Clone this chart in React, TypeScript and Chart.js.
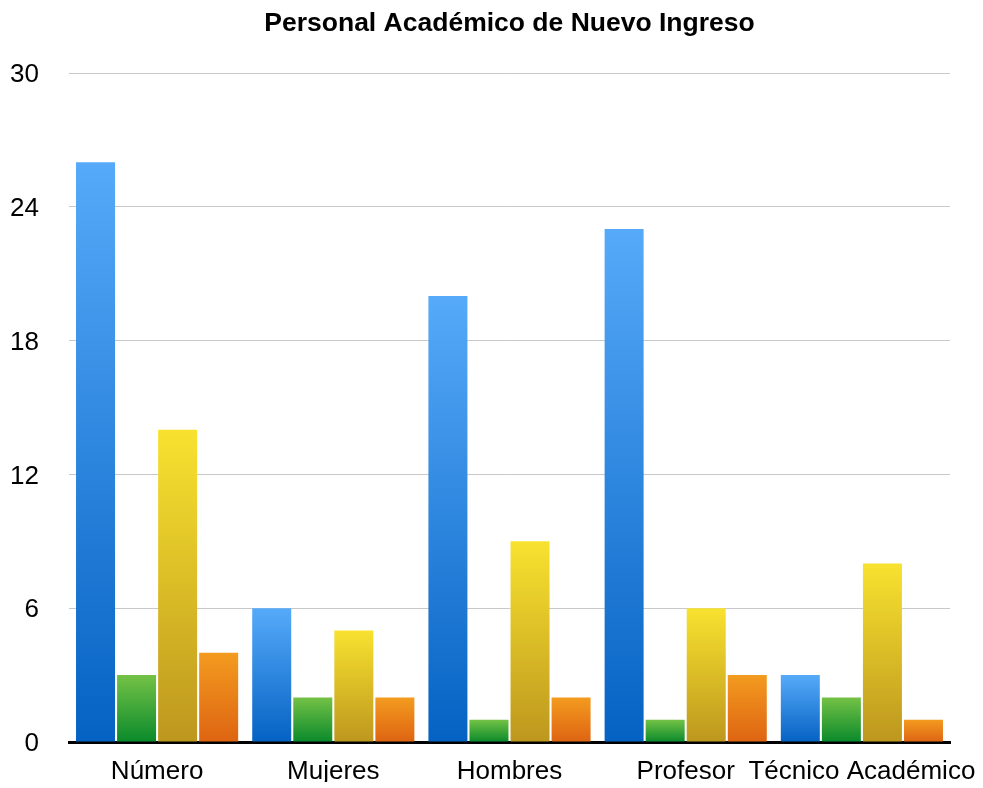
import React, { useEffect, useRef } from "react";
import { Chart, registerables } from "chart.js";

Chart.register(...registerables);

const chartTitle = "Personal Académico de Nuevo Ingreso";
const categories = ["Número", "Mujeres", "Hombres", "Profesor", "Técnico Académico"];
const serieAzul = [26, 6, 20, 23, 3];
const serieVerde = [3, 2, 1, 1, 2];
const serieAmarilla = [14, 5, 9, 6, 8];
const serieNaranja = [4, 2, 2, 3, 1];
const yTicks = [0, 6, 12, 18, 24, 30];

const FONT = "'Liberation Sans', Arial, Helvetica, sans-serif";

const grad = (top: string, bottom: string) => (ctx: any) => {
  const chart = ctx.chart;
  if (!chart.chartArea || ctx.type !== "data" || !ctx.parsed) return bottom;
  const y = chart.scales.y;
  const t = y.getPixelForValue(ctx.parsed.y);
  const b = y.getPixelForValue(0);
  if (!isFinite(t) || !isFinite(b) || Math.abs(b - t) < 1) return top;
  const g = chart.ctx.createLinearGradient(0, t, 0, b);
  g.addColorStop(0, top);
  g.addColorStop(1, bottom);
  return g;
};

const titlePlugin = {
  id: "centeredTitle",
  afterDraw(chart: any) {
    const { ctx, chartArea } = chart;
    ctx.save();
    ctx.font = `bold 26.5px ${FONT}`;
    ctx.fillStyle = "#000";
    ctx.textAlign = "center";
    ctx.textBaseline = "alphabetic";
    ctx.fillText(chartTitle, (chartArea.left + chartArea.right) / 2, 31);
    ctx.restore();
  },
};

export default function App() {
  const ref = useRef<HTMLCanvasElement>(null);

  useEffect(() => {
    if (!ref.current) return;
    const chart = new Chart(ref.current, {
      type: "bar",
      data: {
        labels: categories,
        datasets: [
          { label: "Serie 1", data: serieAzul, backgroundColor: grad("#56aaf9", "#0562c3") },
          { label: "Serie 2", data: serieVerde, backgroundColor: grad("#74c246", "#0a8a2b") },
          { label: "Serie 3", data: serieAmarilla, backgroundColor: grad("#f8e22f", "#bd971e") },
          { label: "Serie 4", data: serieNaranja, backgroundColor: grad("#f39b1f", "#de6412") },
        ],
      },
      options: {
        responsive: false,
        animation: false,
        layout: { padding: { top: 73, left: 10, right: 33, bottom: 6 } },
        datasets: { bar: { categoryPercentage: 0.932, barPercentage: 0.95 } },
        plugins: {
          legend: { display: false },
          title: { display: false },
          tooltip: { enabled: false },
        },
        scales: {
          x: {
            grid: { display: false, drawTicks: false, tickLength: 0 },
            border: { display: true, color: "#000", width: 3 },
            ticks: {
              font: { family: FONT, size: 26 },
              color: "#000",
              maxRotation: 0,
              minRotation: 0,
              autoSkip: false,
              padding: 14,
            },
            afterFit: (axis: any) => {
              axis.height = 40;
              axis.paddingLeft = 0;
              axis.paddingRight = 0;
            },
          },
          y: {
            min: 0,
            max: 30,
            afterBuildTicks: (axis: any) => {
              axis.ticks = yTicks.map((v) => ({ value: v }));
            },
            grid: { color: "#c8c8c8", lineWidth: 1, drawTicks: false, tickLength: 0 },
            border: { display: false },
            ticks: {
              font: { family: FONT, size: 26 },
              color: "#000",
              padding: 30,
              labelOffset: 2,
            },
            afterFit: (axis: any) => {
              axis.width = 59;
              axis.paddingTop = 0;
              axis.paddingBottom = 0;
            },
          },
        },
      },
      plugins: [titlePlugin],
    });
    return () => chart.destroy();
  }, []);

  return (
    <div style={{ position: "absolute", left: 0, top: 0, width: 983, height: 788 }}>
      <canvas ref={ref} width={983} height={788} style={{ display: "block" }} />
    </div>
  );
}
